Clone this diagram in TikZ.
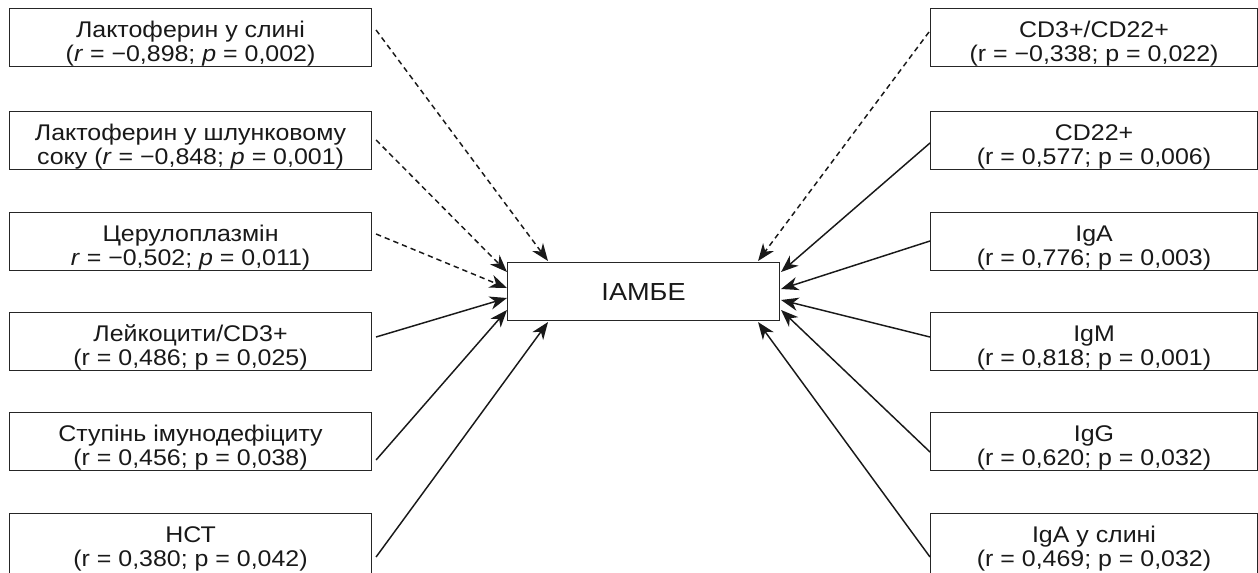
\documentclass[tikz,border=0pt]{standalone}
\usepackage{fontspec}
\setmainfont{Liberation Sans}[FakeStretch=1.1]
\usetikzlibrary{arrows.meta,calc}

% two-line box label, lowered a little inside its frame
\newcommand\boxtext[2][5.3pt]{\raisebox{-#1}[\height][\depth]{\begin{tabular}{@{}c@{}}#2\end{tabular}}}

\begin{document}
\begin{tikzpicture}[x=0.75pt,y=-0.75pt,
  factor/.style={draw=black!85, line width=0.8pt, fill=white, inner sep=0pt,
    anchor=north west, minimum height=43.5pt,
    font=\fontsize{17pt}{18.4pt}\selectfont, text=black!90},
  leftbox/.style={factor, minimum width=271.5pt},
  rightbox/.style={factor, minimum width=245.25pt},
  cutbox/.style={minimum height=49.5pt},
  link/.style={line width=1.1pt, draw=black!90,
    -{Stealth[length=13pt,width=10pt,inset=4pt]}},
  neglink/.style={link, dash pattern=on 4pt off 3pt}
]
\useasboundingbox (0,0) rectangle (1258,572);
\fill[white] (0,0) rectangle (1258,572);
\clip (0,0) rectangle (1258,572);

% central index
\node[factor, minimum width=204pt, font=\fontsize{18.5pt}{20pt}\selectfont] (C) at (507,262) {ІАМБЕ};

% left column
\node[leftbox] (L1) at (9,8)   {\boxtext{Лактоферин у слині\\(\textit{r} = −0,898; \textit{p} = 0,002)}};
\node[leftbox] (L2) at (9,111) {\boxtext{Лактоферин у шлунковому\\соку (\textit{r} = −0,848; \textit{p} = 0,001)}};
\node[leftbox] (L3) at (9,212) {\boxtext{Церулоплазмін\\\textit{r} = −0,502; \textit{p} = 0,011)}};
\node[leftbox] (L4) at (9,312) {\boxtext{Лейкоцити/CD3+\\(r = 0,486; p = 0,025)}};
\node[leftbox] (L5) at (9,412) {\boxtext{Ступінь імунодефіциту\\(r = 0,456; p = 0,038)}};
\node[leftbox, cutbox] (L6) at (9,513) {\boxtext[2.3pt]{НСТ\\(r = 0,380; p = 0,042)}};

% right column
\node[rightbox] (R1) at (930,8)   {\boxtext{CD3+/CD22+\\(r = −0,338; p = 0,022)}};
\node[rightbox] (R2) at (930,111) {\boxtext{CD22+\\(r = 0,577; p = 0,006)}};
\node[rightbox] (R3) at (930,212) {\boxtext{IgA\\(r = 0,776; p = 0,003)}};
\node[rightbox] (R4) at (930,312) {\boxtext{IgM\\(r = 0,818; p = 0,001)}};
\node[rightbox] (R5) at (930,412) {\boxtext{IgG\\(r = 0,620; p = 0,032)}};
\node[rightbox, cutbox] (R6) at (930,513) {\boxtext[2.3pt]{IgA у слині\\(r = 0,469; p = 0,032)}};

% correlations from the left column
\draw[neglink] ($(L1.north east)+(4,22)$) -- ($(C.north west)+(41,-1)$);
\draw[neglink] ($(L2.north east)+(4,29)$) -- ($(C.north west)+(0,10)$);
\draw[neglink] ($(L3.north east)+(4,22)$) -- ($(C.north west)+(0,26)$);
\draw[link]    ($(L4.north east)+(4,25)$) -- ($(C.north west)+(0,36)$);
\draw[link]    ($(L5.north east)+(4,48)$) -- ($(C.north west)+(0,48)$);
\draw[link]    ($(L6.north east)+(4,44)$) -- ($(C.south west)+(41,1)$);

% correlations from the right column
\draw[neglink] ($(R1.north west)+(-1,24)$) -- ($(C.north east)+(-22,-1)$);
\draw[link]    ($(R2.north west)+(0,32)$) -- ($(C.north east)+(1,10)$);
\draw[link]    ($(R3.north west)+(0,29)$) -- ($(C.north east)+(1,27)$);
\draw[link]    ($(R4.north west)+(0,25)$) -- ($(C.north east)+(1,38)$);
\draw[link]    ($(R5.north west)+(0,40)$) -- ($(C.north east)+(1,48)$);
\draw[link]    ($(R6.north west)+(0,44)$) -- ($(C.south east)+(-22,1)$);
\end{tikzpicture}
\end{document}
